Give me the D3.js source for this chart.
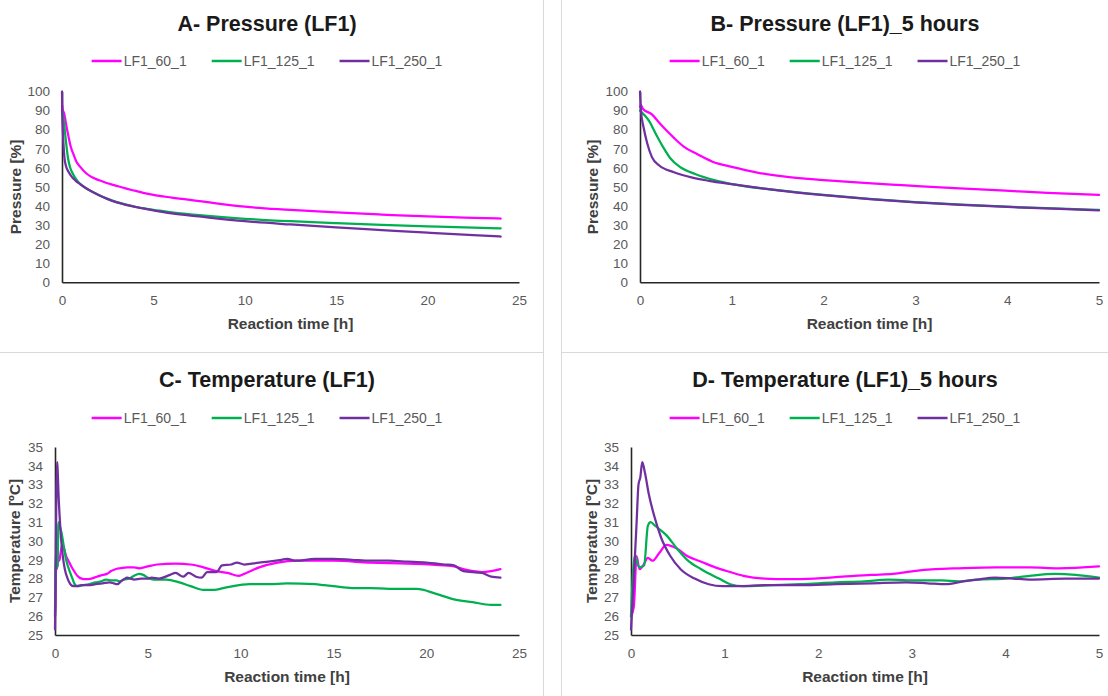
<!DOCTYPE html>
<html><head><meta charset="utf-8">
<script src="https://cdn.jsdelivr.net/npm/d3@7"></script>
<style>body{margin:0;background:#fff;} svg{display:block;font-family:"Liberation Sans",Arial,sans-serif;}</style>
</head><body><svg id="c" width="1108" height="696"></svg>
<script>
// ---------- data ----------
const seriesNames = ["LF1_60_1", "LF1_125_1", "LF1_250_1"];
const seriesColors = ["#FF00FF", "#00B050", "#7030A0"];

const xTicks24 = [0, 5, 10, 15, 20, 25];
const xTicks5 = [0, 1, 2, 3, 4, 5];
const pressureTicks = [0, 10, 20, 30, 40, 50, 60, 70, 80, 90, 100];
const tempTicks = [25, 26, 27, 28, 29, 30, 31, 32, 33, 34, 35];

// [time h, pressure %]
const pressure60 = [[0,92],[0.01,93],[0.03,91],[0.13,88],[0.21,83.6],[0.25,81.5],[0.3,79],[0.37,75.7],[0.48,71],[0.63,67],[0.79,63.2],[1.0,60.5],[1.29,57.4],[1.56,55.5],[2.0,53.6],[2.4,52.2],[2.9,50.8],[3.48,49.2],[3.98,48],[4.44,46.9],[5,45.8],[6,44.4],[7.5,42.6],[10,39.6],[12.5,38],[15,36.6],[17.5,35.5],[20,34.5],[22.5,33.8],[24,33.4]];
const pressure125 = [[0,90],[0.05,87.5],[0.1,84.5],[0.17,78],[0.25,71],[0.33,65],[0.44,60.3],[0.6,56.8],[0.83,53.3],[1.0,51.5],[1.5,48.3],[2,45.8],[2.5,43.7],[3,42],[3.5,40.7],[4,39.6],[4.5,38.7],[5,38],[6,36.6],[7.5,35.2],[10,33.3],[12.5,32],[15,31],[17.5,30.1],[20,29.3],[22.5,28.6],[24,28.3]];
const pressure250 = [[0,100],[0.01,90],[0.04,81],[0.08,72.6],[0.13,65.6],[0.21,61.2],[0.37,57.7],[0.56,55],[0.75,53.2],[1.0,51.4],[1.5,48.2],[2,45.7],[2.5,43.6],[3,41.9],[3.5,40.6],[4,39.5],[4.5,38.6],[5,37.7],[6,36.1],[7.5,34.5],[10,32],[12.5,30.3],[15,28.8],[17.5,27.4],[20,26],[22.5,24.7],[24,24]];

// [time h, temperature °C]
const temp60 = [[0,26.0],[0.03,26.5],[0.06,29.2],[0.09,28.5],[0.13,28.7],[0.18,29.1],[0.23,28.95],[0.3,29.35],[0.38,29.8],[0.49,29.6],[0.6,29.2],[0.75,28.9],[0.9,28.6],[1.06,28.35],[1.2,28.15],[1.43,28.0],[1.66,27.97],[1.96,28.0],[2.26,28.1],[2.57,28.2],[2.8,28.25],[3.02,28.4],[3.25,28.5],[3.5,28.55],[3.9,28.6],[4.26,28.6],[4.57,28.55],[5,28.65],[5.5,28.75],[6.5,28.8],[7.3,28.75],[8,28.6],[8.7,28.4],[9.3,28.3],[9.9,28.15],[10.3,28.3],[11,28.6],[12,28.85],[13,28.95],[15,28.95],[17,28.85],[19,28.8],[21,28.7],[21.5,28.65],[22,28.5],[23,28.35],[23.5,28.4],[24,28.5]];
const temp125 = [[0,26.0],[0.04,29.2],[0.09,28.6],[0.14,28.7],[0.18,30.8],[0.21,31.0],[0.26,30.8],[0.38,30.3],[0.49,29.6],[0.6,29.0],[0.75,28.5],[0.94,28.0],[1.06,27.7],[1.2,27.6],[1.5,27.65],[1.81,27.7],[2.19,27.8],[2.49,27.85],[2.75,27.95],[3.06,27.9],[3.32,27.9],[3.5,27.85],[3.7,27.95],[4.0,28.0],[4.26,28.15],[4.53,28.25],[4.75,28.2],[5,28.05],[5.3,27.95],[6,27.95],[6.7,27.8],[7.3,27.6],[8,27.4],[8.5,27.4],[9.3,27.55],[10.5,27.7],[11.5,27.7],[12.5,27.75],[14,27.7],[14.5,27.65],[15,27.6],[16,27.5],[17,27.5],[18,27.45],[19.5,27.45],[20.5,27.2],[21.5,26.9],[22.5,26.75],[23.5,26.6],[24,26.6]];
const temp250 = [[0,25.3],[0.03,28],[0.06,31],[0.08,33.0],[0.1,33.4],[0.12,34.2],[0.15,33.6],[0.19,32.5],[0.25,31.3],[0.32,30.2],[0.42,29.2],[0.53,28.5],[0.68,28.0],[0.83,27.7],[0.98,27.6],[1.17,27.6],[1.43,27.65],[1.81,27.65],[2.19,27.7],[2.57,27.75],[2.94,27.8],[3.17,27.75],[3.36,27.7],[3.55,27.85],[3.7,27.95],[3.89,28.05],[4.08,28.0],[4.26,27.95],[4.64,28.0],[5,28.0],[5.2,28.05],[5.6,28.0],[6.2,28.2],[6.5,28.3],[6.9,28.1],[7.2,28.3],[7.6,28.1],[7.9,28.05],[8.2,28.35],[8.7,28.35],[9,28.7],[9.5,28.75],[9.8,28.85],[10.2,28.75],[11,28.85],[11.5,28.9],[12.2,29.0],[12.5,29.05],[13,28.95],[14,29.05],[15,29.05],[16,29.0],[17,28.95],[18,28.95],[19,28.9],[20,28.85],[21,28.75],[21.5,28.7],[22,28.4],[23,28.3],[23.5,28.1],[24,28.05]];

// ---------- layout ----------
const panels = [
  {title:"A- Pressure (LF1)", series:[pressure60,pressure125,pressure250], xTicks:xTicks24, yTicks:pressureTicks, yLabel:"Pressure [%]",
   x0:62, x1:519, y0:91.5, y1:282.3, titleX:267, titleY:24, legendY:61, yTitleX:15},
  {title:"B- Pressure (LF1)_5 hours", series:[pressure60,pressure125,pressure250], xTicks:xTicks5, yTicks:pressureTicks, yLabel:"Pressure [%]",
   x0:640, x1:1099, y0:91.5, y1:282.3, titleX:845, titleY:24, legendY:61, yTitleX:592},
  {title:"C- Temperature (LF1)", series:[temp60,temp125,temp250], xTicks:xTicks24, yTicks:tempTicks, yLabel:"Temperature [ºC]",
   x0:55, x1:519, y0:447, y1:635, titleX:267, titleY:380, legendY:418, yTitleX:14},
  {title:"D- Temperature (LF1)_5 hours", series:[temp60,temp125,temp250], xTicks:xTicks5, yTicks:tempTicks, yLabel:"Temperature [ºC]",
   x0:631, x1:1099, y0:447, y1:635, titleX:845, titleY:380, legendY:418, yTitleX:591}
];

const svg = d3.select("#c");
svg.append("rect").attr("width",1108).attr("height",696).attr("fill","#fff");

// chart borders
const border = "#d9d9d9";
svg.append("line").attr("x1",543.5).attr("x2",543.5).attr("y1",0).attr("y2",696).attr("stroke",border);
svg.append("line").attr("x1",561.5).attr("x2",561.5).attr("y1",0).attr("y2",696).attr("stroke",border);
svg.append("line").attr("x1",0).attr("x2",543.5).attr("y1",352.5).attr("y2",352.5).attr("stroke",border);
svg.append("line").attr("x1",561.5).attr("x2",1108).attr("y1",352.5).attr("y2",352.5).attr("stroke",border);

panels.forEach(p => {
  const g = svg.append("g");
  const xMax = p.xTicks[p.xTicks.length-1];
  const x = d3.scaleLinear().domain([p.xTicks[0], xMax]).range([p.x0, p.x1]);
  const y = d3.scaleLinear().domain([p.yTicks[0], p.yTicks[p.yTicks.length-1]]).range([p.y1, p.y0]);

  // title
  g.append("text").attr("x",p.titleX).attr("y",p.titleY).attr("text-anchor","middle").attr("dominant-baseline","central")
    .attr("font-size",21.5).attr("font-weight","bold").attr("fill","#1a1a1a").text(p.title);

  // legend (centered)
  const lg = g.append("g");
  let cx = 0;
  seriesNames.forEach((name,i) => {
    const it = lg.append("g").attr("transform",`translate(${cx},0)`);
    it.append("line").attr("x1",0).attr("x2",30).attr("y1",0).attr("y2",0).attr("stroke",seriesColors[i]).attr("stroke-width",2.5);
    const t = it.append("text").attr("x",32).attr("y",0).attr("dominant-baseline","central").attr("font-size",14).attr("fill","#595959").text(name);
    cx += 32 + t.node().getComputedTextLength() + 25;
  });
  const lw = cx - 25;
  lg.attr("transform",`translate(${p.titleX - lw/2},${p.legendY})`);

  // axes
  const ya = g.append("g").attr("transform",`translate(${p.x0},0)`)
    .call(d3.axisLeft(y).tickValues(p.yTicks).tickSize(0).tickSizeOuter(0).tickPadding(12).tickFormat(d3.format("d")));
  const xa = g.append("g").attr("transform",`translate(0,${p.y1})`)
    .call(d3.axisBottom(x).tickValues(p.xTicks).tickSize(0).tickSizeOuter(0).tickPadding(13).tickFormat(d3.format("d")));
  [ya,xa].forEach(a => {
    a.select(".domain").attr("stroke","#262626").attr("stroke-width",1.6);
    a.selectAll("text").attr("font-size",13.5).attr("fill","#595959").attr("font-family","Liberation Sans, Arial, sans-serif");
  });

  // axis titles
  g.append("text").attr("x",(p.x0+p.x1)/2).attr("y",p.y1+41).attr("text-anchor","middle").attr("dominant-baseline","central")
    .attr("font-size",15.5).attr("font-weight","bold").attr("fill","#404040").text("Reaction time [h]");
  g.append("text").attr("transform",`translate(${p.yTitleX},${(p.y0+p.y1)/2}) rotate(-90)`).attr("text-anchor","middle").attr("dominant-baseline","central")
    .attr("font-size",15.5).attr("font-weight","bold").attr("fill","#404040").text(p.yLabel);

  // lines
  const line = d3.line().x(d => x(d[0])).y(d => y(d[1])).curve(d3.curveMonotoneX);
  p.series.forEach((s,i) => {
    g.append("path").datum(s.filter(d => d[0] <= xMax)).attr("d",line)
      .attr("fill","none").attr("stroke",seriesColors[i]).attr("stroke-width",2.25)
      .attr("stroke-linejoin","round").attr("stroke-linecap","round");
  });
});
</script></body></html>
